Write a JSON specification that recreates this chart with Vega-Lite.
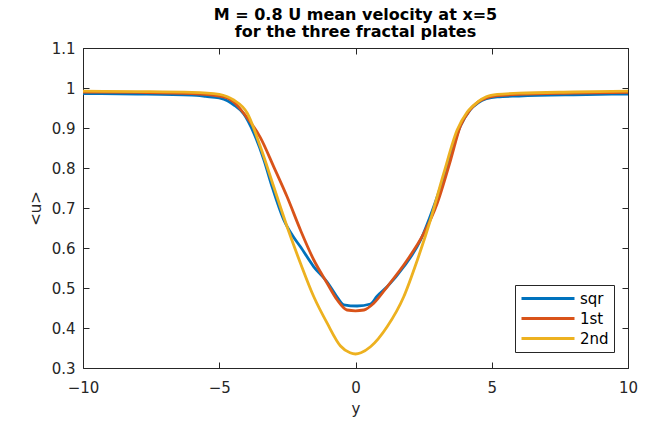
{
  "$schema": "https://vega.github.io/schema/vega-lite/v6.json",
  "width": 545,
  "height": 320,
  "autosize": {"type": "none"},
  "padding": {"left": 83, "top": 48, "right": 18, "bottom": 56},
  "background": "white",
  "title": {
    "text": ["M = 0.8 U mean velocity at x=5", "for the three fractal plates"],
    "font": "DejaVu Sans",
    "fontSize": 16,
    "fontWeight": "bold",
    "color": "#000000",
    "anchor": "middle",
    "offset": 1,
    "lineHeight": 17.5
  },
  "config": {
    "view": {"stroke": "#262626", "strokeWidth": 1},
    "axis": {
      "grid": false,
      "domain": false,
      "tickSize": -6,
      "tickColor": "#262626",
      "labelFlush": false,
      "labelFont": "DejaVu Sans",
      "labelFontSize": 15,
      "labelColor": "#262626",
      "titleFont": "DejaVu Sans",
      "titleFontSize": 15,
      "titleFontWeight": "normal",
      "titleColor": "#262626"
    }
  },
  "data": {
    "values": [
      {"y": -10, "u": 0.986, "plate": "sqr"},
      {"y": -8, "u": 0.985, "plate": "sqr"},
      {"y": -6, "u": 0.982, "plate": "sqr"},
      {"y": -5.5, "u": 0.979, "plate": "sqr"},
      {"y": -5, "u": 0.975, "plate": "sqr"},
      {"y": -4.7, "u": 0.968, "plate": "sqr"},
      {"y": -4.47, "u": 0.958, "plate": "sqr"},
      {"y": -4.1, "u": 0.935, "plate": "sqr"},
      {"y": -3.73, "u": 0.887, "plate": "sqr"},
      {"y": -3.36, "u": 0.82, "plate": "sqr"},
      {"y": -3.06, "u": 0.753, "plate": "sqr"},
      {"y": -2.63, "u": 0.67, "plate": "sqr"},
      {"y": -2.3, "u": 0.63, "plate": "sqr"},
      {"y": -2.02, "u": 0.603, "plate": "sqr"},
      {"y": -1.53, "u": 0.553, "plate": "sqr"},
      {"y": -1.04, "u": 0.515, "plate": "sqr"},
      {"y": -0.7, "u": 0.48, "plate": "sqr"},
      {"y": -0.43, "u": 0.458, "plate": "sqr"},
      {"y": 0.06, "u": 0.455, "plate": "sqr"},
      {"y": 0.55, "u": 0.46, "plate": "sqr"},
      {"y": 0.8, "u": 0.48, "plate": "sqr"},
      {"y": 1.16, "u": 0.503, "plate": "sqr"},
      {"y": 1.77, "u": 0.553, "plate": "sqr"},
      {"y": 2.39, "u": 0.62, "plate": "sqr"},
      {"y": 2.87, "u": 0.703, "plate": "sqr"},
      {"y": 3.36, "u": 0.803, "plate": "sqr"},
      {"y": 3.85, "u": 0.905, "plate": "sqr"},
      {"y": 4.2, "u": 0.945, "plate": "sqr"},
      {"y": 4.5, "u": 0.963, "plate": "sqr"},
      {"y": 4.8, "u": 0.973, "plate": "sqr"},
      {"y": 5.2, "u": 0.978, "plate": "sqr"},
      {"y": 6, "u": 0.98, "plate": "sqr"},
      {"y": 8, "u": 0.983, "plate": "sqr"},
      {"y": 10, "u": 0.985, "plate": "sqr"},

      {"y": -10, "u": 0.99, "plate": "1st"},
      {"y": -8, "u": 0.989, "plate": "1st"},
      {"y": -6, "u": 0.986, "plate": "1st"},
      {"y": -5, "u": 0.98, "plate": "1st"},
      {"y": -4.7, "u": 0.975, "plate": "1st"},
      {"y": -4.47, "u": 0.965, "plate": "1st"},
      {"y": -3.97, "u": 0.925, "plate": "1st"},
      {"y": -3.49, "u": 0.876, "plate": "1st"},
      {"y": -3.0, "u": 0.803, "plate": "1st"},
      {"y": -2.51, "u": 0.728, "plate": "1st"},
      {"y": -2.02, "u": 0.645, "plate": "1st"},
      {"y": -1.53, "u": 0.57, "plate": "1st"},
      {"y": -1.04, "u": 0.512, "plate": "1st"},
      {"y": -0.67, "u": 0.47, "plate": "1st"},
      {"y": -0.31, "u": 0.445, "plate": "1st"},
      {"y": 0.0, "u": 0.443, "plate": "1st"},
      {"y": 0.31, "u": 0.445, "plate": "1st"},
      {"y": 0.67, "u": 0.462, "plate": "1st"},
      {"y": 1.16, "u": 0.503, "plate": "1st"},
      {"y": 1.9, "u": 0.57, "plate": "1st"},
      {"y": 2.51, "u": 0.637, "plate": "1st"},
      {"y": 3.0, "u": 0.712, "plate": "1st"},
      {"y": 3.49, "u": 0.82, "plate": "1st"},
      {"y": 3.85, "u": 0.905, "plate": "1st"},
      {"y": 4.2, "u": 0.945, "plate": "1st"},
      {"y": 4.5, "u": 0.965, "plate": "1st"},
      {"y": 4.8, "u": 0.975, "plate": "1st"},
      {"y": 5.2, "u": 0.981, "plate": "1st"},
      {"y": 6, "u": 0.984, "plate": "1st"},
      {"y": 8, "u": 0.987, "plate": "1st"},
      {"y": 10, "u": 0.989, "plate": "1st"},

      {"y": -10, "u": 0.992, "plate": "2nd"},
      {"y": -8, "u": 0.991, "plate": "2nd"},
      {"y": -6, "u": 0.989, "plate": "2nd"},
      {"y": -5, "u": 0.984, "plate": "2nd"},
      {"y": -4.7, "u": 0.978, "plate": "2nd"},
      {"y": -4.47, "u": 0.97, "plate": "2nd"},
      {"y": -3.97, "u": 0.937, "plate": "2nd"},
      {"y": -3.49, "u": 0.853, "plate": "2nd"},
      {"y": -3.0, "u": 0.753, "plate": "2nd"},
      {"y": -2.51, "u": 0.653, "plate": "2nd"},
      {"y": -2.02, "u": 0.562, "plate": "2nd"},
      {"y": -1.53, "u": 0.478, "plate": "2nd"},
      {"y": -1.04, "u": 0.412, "plate": "2nd"},
      {"y": -0.55, "u": 0.355, "plate": "2nd"},
      {"y": -0.2, "u": 0.338, "plate": "2nd"},
      {"y": 0, "u": 0.335, "plate": "2nd"},
      {"y": 0.2, "u": 0.338, "plate": "2nd"},
      {"y": 0.55, "u": 0.353, "plate": "2nd"},
      {"y": 1.16, "u": 0.403, "plate": "2nd"},
      {"y": 1.77, "u": 0.478, "plate": "2nd"},
      {"y": 2.27, "u": 0.57, "plate": "2nd"},
      {"y": 2.75, "u": 0.67, "plate": "2nd"},
      {"y": 3.24, "u": 0.787, "plate": "2nd"},
      {"y": 3.73, "u": 0.895, "plate": "2nd"},
      {"y": 4.1, "u": 0.94, "plate": "2nd"},
      {"y": 4.5, "u": 0.966, "plate": "2nd"},
      {"y": 4.8, "u": 0.978, "plate": "2nd"},
      {"y": 5.2, "u": 0.984, "plate": "2nd"},
      {"y": 6, "u": 0.987, "plate": "2nd"},
      {"y": 8, "u": 0.99, "plate": "2nd"},
      {"y": 10, "u": 0.992, "plate": "2nd"}
    ]
  },
  "resolve": {"axis": {"x": "independent", "y": "independent"}},
  "layer": [
    {
      "mark": {"type": "line", "strokeWidth": 2.8, "interpolate": "monotone"},
      "encoding": {
        "x": {
          "field": "y", "type": "quantitative",
          "scale": {"domain": [-10, 10], "nice": false},
          "axis": {"values": [-10, -5, 0, 5, 10], "title": "y", "labelPadding": 18, "titlePadding": 6}
        },
        "y": {
          "field": "u", "type": "quantitative",
          "scale": {"domain": [0.3, 1.1], "nice": false, "zero": false},
          "axis": {"values": [0.3, 0.4, 0.5, 0.6, 0.7, 0.8, 0.9, 1, 1.1], "format": "~g", "title": "<u>", "labelPadding": 14, "titlePadding": 8}
        },
        "color": {
          "field": "plate", "type": "nominal",
          "scale": {"domain": ["sqr", "1st", "2nd"], "range": ["#0072BD", "#D95319", "#EDB120"]},
          "legend": {
            "title": null,
            "orient": "none",
            "legendX": 432,
            "legendY": 237,
            "strokeColor": "#262626",
            "fillColor": "white",
            "padding": 5,
            "symbolType": "M-1,0H6.571",
            "symbolSize": 196,
            "symbolStrokeWidth": 3,
            "labelFont": "DejaVu Sans",
            "labelFontSize": 15,
            "labelColor": "#000000",
            "rowPadding": 3,
            "labelOffset": 43
          }
        }
      }
    },
    {
      "mark": {"type": "line", "opacity": 0},
      "encoding": {
        "x": {
          "field": "y", "type": "quantitative",
          "axis": {"orient": "top", "values": [-10, -5, 0, 5, 10], "labels": false, "title": null}
        },
        "y": {
          "field": "u", "type": "quantitative",
          "axis": {"orient": "right", "values": [0.3, 0.4, 0.5, 0.6, 0.7, 0.8, 0.9, 1, 1.1], "labels": false, "title": null}
        },
        "detail": {"field": "plate", "type": "nominal"}
      }
    }
  ]
}
